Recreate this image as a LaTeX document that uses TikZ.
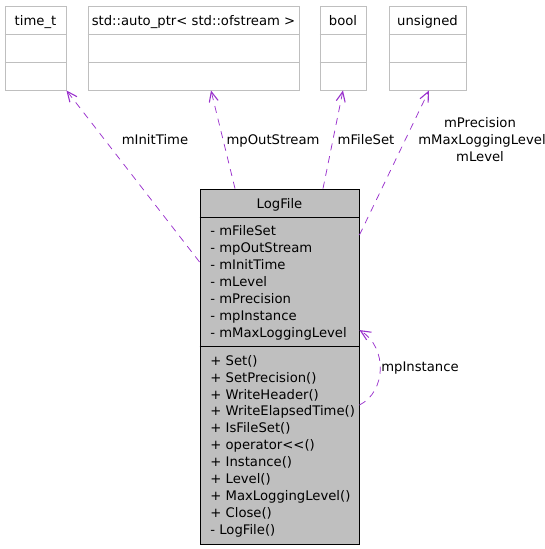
\documentclass[tikz,border=0pt]{standalone}
\usepackage{fontspec}
\setmainfont{DejaVu Sans}
\usetikzlibrary{arrows.meta}

\definecolor{boxgray}{RGB}{191,191,191}
\definecolor{linkpurple}{RGB}{154,50,205}

\tikzset{every picture/.style={line width=0.75pt}}
\tikzset{
  classbox/.style={draw=boxgray, inner sep=0pt, line width=0.9pt},
  mainbox/.style={draw=black, fill=boxgray, inner sep=0pt, line width=0.9pt},
  txt/.style={font=\fontsize{13.2}{15}\selectfont, inner sep=0pt, text height=12pt, text depth=2pt},
  member/.style={txt, anchor=west},
  uselink/.style={draw=linkpurple, line width=0.75pt, dash pattern=on 7pt off 6pt,
    -{Straight Barb[length=10pt,width=9pt,line width=1.1pt]}}
}

\begin{document}
\begin{tikzpicture}[x=1pt,y=1pt,yscale=-1,xscale=1]
\useasboundingbox (0,0) rectangle (545,549);

%Shape: Class boxes
\node [classbox, minimum width=61pt, minimum height=84pt] (timet) at (35.5,48) {};
\node [classbox, minimum width=211pt, minimum height=84pt] (autoptr) at (193.5,48) {};
\node [classbox, minimum width=46pt, minimum height=84pt] (bool) at (343,48) {};
\node [classbox, minimum width=77pt, minimum height=84pt] (unsigned) at (427.5,48) {};
\node [mainbox, minimum width=159pt, minimum height=355pt] (logfile) at (279.5,366.5) {};

%Straight Lines: compartments
\draw [boxgray, line width=0.9pt] (timet.west |- 0,34) -- (timet.east |- 0,34) (timet.west |- 0,62) -- (timet.east |- 0,62) ;
\draw [boxgray, line width=0.9pt] (autoptr.west |- 0,34) -- (autoptr.east |- 0,34) (autoptr.west |- 0,62) -- (autoptr.east |- 0,62) ;
\draw [boxgray, line width=0.9pt] (bool.west |- 0,34) -- (bool.east |- 0,34) (bool.west |- 0,62) -- (bool.east |- 0,62) ;
\draw [boxgray, line width=0.9pt] (unsigned.west |- 0,34) -- (unsigned.east |- 0,34) (unsigned.west |- 0,62) -- (unsigned.east |- 0,62) ;
\draw [black, line width=0.9pt] (logfile.west |- 0,217) -- (logfile.east |- 0,217) (logfile.west |- 0,346) -- (logfile.east |- 0,346) ;

%Straight Lines: usage links
\draw [uselink] (logfile.west |- 0,262) -- (timet.south east) ;
\draw [uselink] (logfile.north -| 235,0) -- (autoptr.south -| 211,0) ;
\draw [uselink] (logfile.north -| 323,0) -- (bool.south) ;
\draw [uselink] (logfile.east |- 0,235) -- (unsigned.south -| 429,0) ;
%Curve Lines: self link
\draw [uselink] (logfile.east |- 0,405) .. controls (386,392) and (388,348) .. (logfile.east |- 0,330) ;

% Text Node
\node [txt] (timettitle) at (35.5,20) {time\_t};
% Text Node
\node [txt] (autoptrtitle) at (193.5,20) {std::auto\_ptr< std::ofstream >};
% Text Node
\node [txt] (booltitle) at (343,20) {bool};
% Text Node
\node [txt] (unsignedtitle) at (427.5,20) {unsigned};
% Text Node
\node [txt] (logfiletitle) at (279.5,203) {LogFile};

% Text Node: attributes
\node [member] (aFileSet) at (210,230) {- mFileSet};
\node [member] (aOutStream) at (210,247) {- mpOutStream};
\node [member] (aInitTime) at (210,264) {- mInitTime};
\node [member] (aLevel) at (210,281) {- mLevel};
\node [member] (aPrecision) at (210,298) {- mPrecision};
\node [member] (aInstance) at (210,315) {- mpInstance};
\node [member] (aMaxLevel) at (210,332) {- mMaxLoggingLevel};

% Text Node: operations
\node [member] (oSet) at (210,360) {+ Set()};
\node [member] (oSetPrecision) at (210,377) {+ SetPrecision()};
\node [member] (oWriteHeader) at (210,394) {+ WriteHeader()};
\node [member] (oWriteElapsed) at (210,410) {+ WriteElapsedTime()};
\node [member] (oIsFileSet) at (210,427) {+ IsFileSet()};
\node [member] (oOperator) at (210,444) {+ operator<{}<{}()};
\node [member] (oInstance) at (210,461) {+ Instance()};
\node [member] (oLevel) at (210,478) {+ Level()};
\node [member] (oMaxLevel) at (210,495) {+ MaxLoggingLevel()};
\node [member] (oClose) at (210,512) {+ Close()};
\node [member] (oLogFile) at (210,529) {- LogFile()};

% Text Node: link labels
\node [txt] (lInitTime) at (155,139) {mInitTime};
\node [txt] (lOutStream) at (273,139) {mpOutStream};
\node [txt] (lFileSet) at (366,139) {mFileSet};
\node [txt] (lPrecision) at (480,122) {mPrecision};
\node [txt] (lMaxLevel) at (482,139) {mMaxLoggingLevel};
\node [txt] (lLevel) at (480,156) {mLevel};
\node [txt] (lInstance) at (420,366) {mpInstance};

\end{tikzpicture}
\end{document}
